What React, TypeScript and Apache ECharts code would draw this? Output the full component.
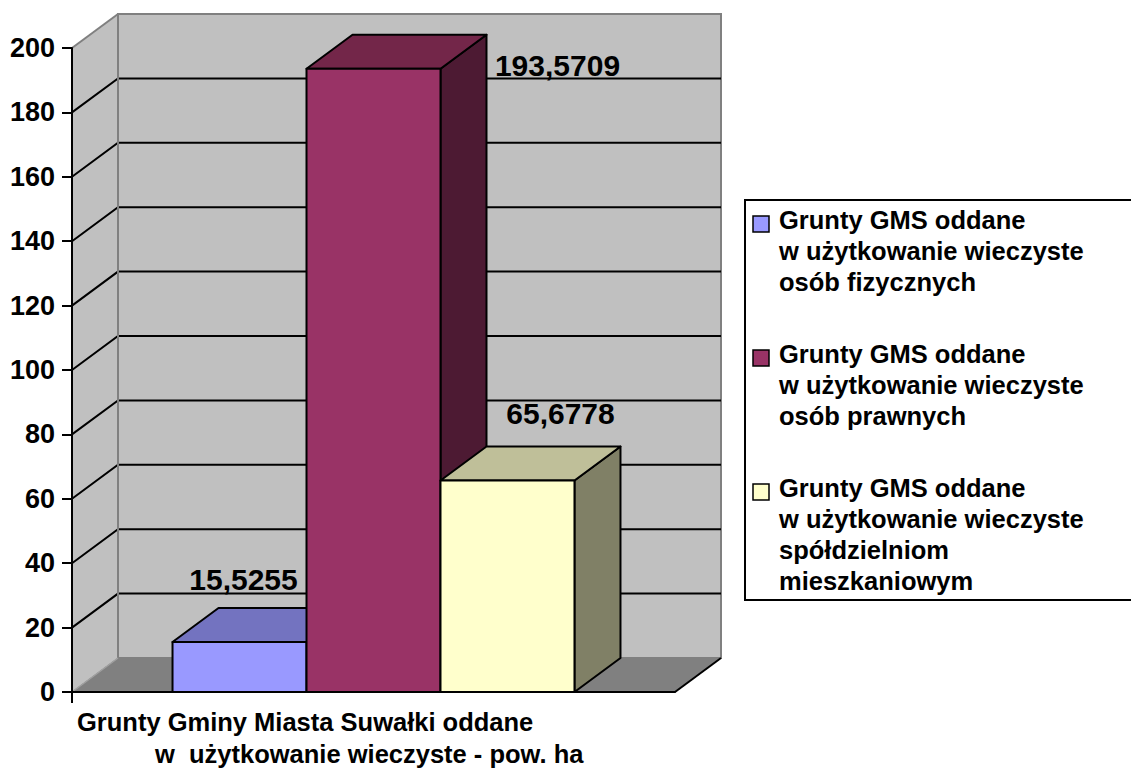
import React, { useEffect, useRef } from "react";
import * as echarts from "echarts";

// ---- data ----
const CATEGORY = "Grunty Gminy Miasta Suwałki oddane\nw  użytkowanie wieczyste - pow. ha";
const SERIES_NAMES = [
  "Grunty GMS oddane\nw użytkowanie wieczyste\nosób fizycznych",
  "Grunty GMS oddane\nw użytkowanie wieczyste\nosób prawnych",
  "Grunty GMS oddane\nw użytkowanie wieczyste\nspółdzielniom\nmieszkaniowym",
];
const VALUES = [15.5255, 193.5709, 65.6778];
const Y_MIN = 0;
const Y_MAX = 200;
const Y_INTERVAL = 20;

// ---- styles ----
const FONT = '"Liberation Sans", Arial, Helvetica, sans-serif';
const FRONT = ["#9999FF", "#993366", "#FFFFCC"];
const TOP = ["#7373C0", "#732649", "#BFBF99"];
const SIDE = ["#4D4D80", "#4D1A33", "#808066"];
const DEPTH = [46, -34];
const BAR_FRAC = 0.2222;
const LABEL_OFFSETS = [
  [-42, -29],
  [138, 31],
  [7, -33],
];
const LEGEND_TOPS = [204, 338, 472];

const fmt = (v: number) => String(v).replace(".", ",");

export default function App() {
  const ref = useRef<HTMLDivElement>(null);
  useEffect(() => {
    if (!ref.current) return;
    const chart = echarts.init(ref.current, undefined, { renderer: "svg" });
    const [dx, dy] = DEPTH;

    const wallsSeries = {
      type: "custom",
      name: "walls",
      silent: true,
      data: [[0, 0]],
      renderItem: (params: any, api: any) => {
        const cs = params.coordSys;
        const L = cs.x;
        const R = cs.x + cs.width;
        const yAt = (v: number) => api.coord([0, v])[1];
        const y0 = yAt(Y_MIN);
        const yT = yAt(Y_MAX);
        const children: any[] = [];
        children.push({
          type: "polygon",
          shape: { points: [[L, y0], [L + dx, y0 + dy], [L + dx, yT + dy], [L, yT]] },
          style: { fill: "#C0C0C0" },
        });
        children.push({
          type: "rect",
          shape: { x: L + dx, y: yT + dy, width: R - L, height: y0 - yT },
          style: { fill: "#C0C0C0", stroke: "#808080", lineWidth: 2 },
        });
        children.push({
          type: "polygon",
          shape: { points: [[L, y0], [L + dx, y0 + dy], [R + dx, y0 + dy], [R, y0]] },
          style: { fill: "#808080", stroke: "#808080", lineWidth: 1 },
        });
        for (let v = Y_MIN + Y_INTERVAL; v < Y_MAX; v += Y_INTERVAL) {
          const y = yAt(v);
          children.push({
            type: "polyline",
            shape: { points: [[L, y], [L + dx, y + dy], [R + dx, y + dy]] },
            style: { stroke: "#000", lineWidth: 2, fill: null },
          });
        }
        children.push({
          type: "line",
          shape: { x1: L, y1: yT, x2: L + dx, y2: yT + dy },
          style: { stroke: "#808080", lineWidth: 2 },
        });
        children.push({
          type: "line",
          shape: { x1: L + dx, y1: yT + dy, x2: L + dx, y2: y0 + dy },
          style: { stroke: "#808080", lineWidth: 2 },
        });
        children.push({
          type: "line",
          shape: { x1: L, y1: y0, x2: L + dx, y2: y0 + dy },
          style: { stroke: "#A0A0A0", lineWidth: 1.5 },
        });
        children.push({
          type: "line",
          shape: { x1: R, y1: y0, x2: R + dx, y2: y0 + dy },
          style: { stroke: "#000", lineWidth: 2 },
        });
        children.push({
          type: "line",
          shape: { x1: L, y1: y0, x2: L, y2: y0 + 11 },
          style: { stroke: "#000", lineWidth: 2 },
        });
        return { type: "group", children };
      },
    };

    const barSeries = VALUES.map((val, i) => ({
      type: "custom",
      name: SERIES_NAMES[i],
      itemStyle: { color: FRONT[i] },
      data: [[0, val]],
      renderItem: (params: any, api: any) => {
        const cat = api.value(0);
        const v = api.value(1);
        const base = api.coord([cat, 0]);
        const top = api.coord([cat, v]);
        const bw = api.size([1, 0])[0] * BAR_FRAC;
        const x0 = base[0] - 1.5 * bw + i * bw;
        const x1 = x0 + bw;
        const yb = base[1];
        const yt = top[1];
        const st = { stroke: "#000", lineWidth: 2, lineJoin: "round" };
        return {
          type: "group",
          children: [
            {
              type: "polygon",
              shape: { points: [[x1, yt], [x1 + dx, yt + dy], [x1 + dx, yb + dy], [x1, yb]] },
              style: { fill: SIDE[i], ...st },
            },
            {
              type: "polygon",
              shape: { points: [[x0, yt], [x0 + dx, yt + dy], [x1 + dx, yt + dy], [x1, yt]] },
              style: { fill: TOP[i], ...st },
            },
            {
              type: "rect",
              shape: { x: x0, y: yt, width: bw, height: yb - yt },
              style: { fill: FRONT[i], ...st },
            },
            {
              type: "text",
              x: x0 + bw / 2 + dx + LABEL_OFFSETS[i][0],
              y: yt + dy + LABEL_OFFSETS[i][1],
              style: {
                text: fmt(v),
                fill: "#000",
                font: `bold 30px ${FONT}`,
                align: "center",
                verticalAlign: "middle",
              },
            },
          ],
        };
      },
    }));

    const titleLines = CATEGORY.split("\n");
    const graphic: any[] = [
      {
        type: "text",
        left: 77,
        top: 709,
        style: { text: titleLines[0], fill: "#000", font: `bold 25.5px ${FONT}` },
      },
      {
        type: "text",
        left: 155,
        top: 741,
        style: { text: titleLines[1], fill: "#000", font: `bold 25.5px ${FONT}` },
      },
      {
        type: "rect",
        shape: { x: 745, y: 200, width: 420, height: 400 },
        style: { fill: "#fff", stroke: "#000", lineWidth: 2 },
      },
    ];
    SERIES_NAMES.forEach((name, i) => {
      const t = LEGEND_TOPS[i];
      graphic.push({
        type: "rect",
        shape: { x: 753, y: t + 12, width: 16, height: 16 },
        style: { fill: FRONT[i], stroke: "#000", lineWidth: 1.5 },
      });
      graphic.push({
        type: "text",
        x: 779,
        y: t,
        style: {
          text: name,
          fill: "#000",
          font: `bold 25.5px ${FONT}`,
          lineHeight: 31,
          verticalAlign: "top",
          align: "left",
        },
      });
    });

    chart.setOption({
      animation: false,
      backgroundColor: "#fff",
      grid: { left: 72, right: 456, top: 48, bottom: 79, containLabel: false },
      xAxis: {
        type: "category",
        data: [CATEGORY],
        z: 10,
        axisLine: { show: true, lineStyle: { color: "#000", width: 2 } },
        axisTick: { show: false },
        axisLabel: { show: false },
        splitLine: { show: false },
      },
      yAxis: {
        type: "value",
        min: Y_MIN,
        max: Y_MAX,
        interval: Y_INTERVAL,
        z: 10,
        axisLine: { show: true, lineStyle: { color: "#000", width: 2 } },
        axisTick: { show: true, length: 10, lineStyle: { color: "#000", width: 2 } },
        axisLabel: {
          color: "#000",
          fontSize: 27,
          fontWeight: "bold",
          fontFamily: FONT,
          margin: 17,
        },
        splitLine: { show: false },
      },
      series: [wallsSeries, ...barSeries],
      graphic,
    });
    return () => chart.dispose();
  }, []);
  return (
    <div
      ref={ref}
      style={{ position: "absolute", left: 0, top: 0, width: 1131, height: 771 }}
    />
  );
}
